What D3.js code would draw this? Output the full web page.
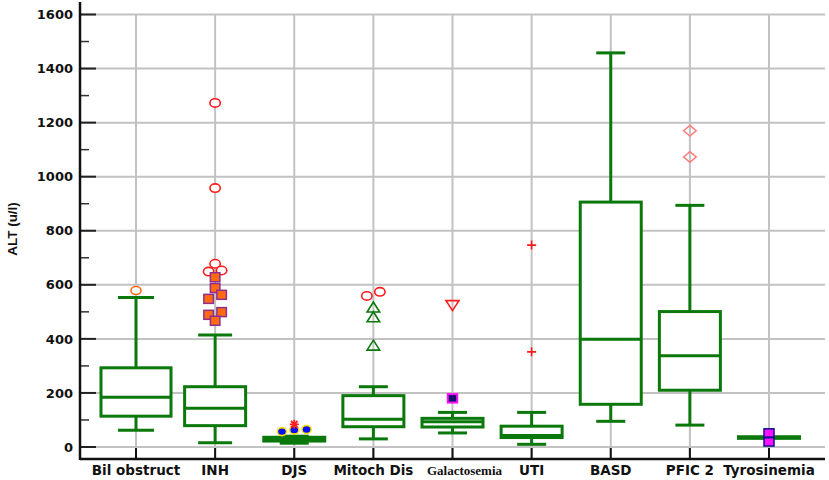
<!DOCTYPE html>
<html><head><meta charset="utf-8">
<script src="https://cdn.jsdelivr.net/npm/d3@7"></script>
<style>body{margin:0;background:#fff}svg{display:block}</style>
</head><body>
<svg id="c" width="829" height="480"></svg>
<script>
// ---- data ----
const categories = ["Bil obstruct","INH","DJS","Mitoch Dis","Galactosemia","UTI","BASD","PFIC 2","Tyrosinemia"];
const whiskerLow  = [62, 16, 14, 30, 52, 10, 95, 81, 35];
const q1          = [114, 79, 22, 75, 74, 35, 158, 210, 32];
const median      = [184, 143, 30, 103, 93, 43, 399, 338, 35];
const q3          = [293, 223, 36, 190, 106, 77, 906, 501, 38];
const whiskerHigh = [553, 414, 40, 223, 128, 128, 1458, 894, 35];
const yTicks = [0,200,400,600,800,1000,1200,1400,1600];
const yMinorTicks = [100,300,500,700,900,1100,1300,1500];

// outliers: [category, value, swarm column]
const redCircles    = [["INH",1273,0],["INH",958,0],["INH",678,0],["INH",653,1],["INH",649,-1],["Mitoch Dis",559,-1],["Mitoch Dis",574,1]];
const orangeCircles = [["Bil obstruct",579,0]];
const orangeSquares = [["INH",628,0],["INH",588,0],["INH",563,1],["INH",548,-1],["INH",499,1],["INH",489,-1],["INH",467,0]];
const blueDots      = [["DJS",57,-1],["DJS",63,0],["DJS",65,1]];
const redStars      = [["DJS",84,0]];
const greenTriangles= [["Mitoch Dis",516,0],["Mitoch Dis",480,0],["Mitoch Dis",375,0]];
const navySquares   = [["Galactosemia",180,0]];
const redDownTriangles = [["Galactosemia",523,0]];
const redPluses     = [["UTI",352,0],["UTI",747,0]];
const pinkDiamonds  = [["PFIC 2",1073,0],["PFIC 2",1170,0]];
const magentaSquares= [["Tyrosinemia",52,0],["Tyrosinemia",19,0]];

// ---- drawing ----
const svg = d3.select("#c");
const green = "#0b780b";
const x = d3.scalePoint().domain(categories).range([136, 769]);
const y = d3.scaleLinear().domain([0, 1600]).range([447, 14.5]);
const axisX = 80, axisY = 459, rightX = 825;

// grid
const grid = svg.append("g").attr("stroke", "#c2c2c2").attr("stroke-width", 2);
grid.selectAll("line.h").data(yTicks).join("line")
  .attr("x1", axisX).attr("x2", rightX).attr("y1", d => y(d)).attr("y2", d => y(d));
grid.selectAll("line.v").data(categories).join("line")
  .attr("x1", d => x(d)).attr("x2", d => x(d)).attr("y1", y(1600)).attr("y2", axisY);

// y axis
const yAxis = d3.axisLeft(y).tickValues(yTicks).tickFormat(d3.format("d")).tickSize(0).tickPadding(7);
const gy = svg.append("g").attr("transform", `translate(${axisX},0)`).call(yAxis);
gy.select(".domain").remove();
gy.selectAll("text").attr("font-family", "DejaVu Sans").attr("font-weight", "bold")
  .attr("font-size", 13).attr("fill", "#111");
svg.append("g").selectAll("line").data(yTicks).join("line")
  .attr("x1", axisX).attr("x2", axisX + 16).attr("y1", d => y(d)).attr("y2", d => y(d))
  .attr("stroke", "#222").attr("stroke-width", 2);
svg.append("g").selectAll("line").data(yMinorTicks).join("line")
  .attr("x1", axisX).attr("x2", axisX + 9).attr("y1", d => y(d)).attr("y2", d => y(d))
  .attr("stroke", "#333").attr("stroke-width", 1.5);
svg.append("line").attr("x1", axisX).attr("x2", axisX).attr("y1", 2).attr("y2", axisY + 1)
  .attr("stroke", "#111").attr("stroke-width", 2.5);

// x axis
svg.append("line").attr("x1", axisX).attr("x2", rightX).attr("y1", axisY).attr("y2", axisY)
  .attr("stroke", "#111").attr("stroke-width", 2.5);
svg.append("g").selectAll("line").data(categories).join("line")
  .attr("x1", d => x(d)).attr("x2", d => x(d)).attr("y1", axisY - 11).attr("y2", axisY)
  .attr("stroke", "#111").attr("stroke-width", 2);
svg.append("g").selectAll("text").data(categories).join("text")
  .attr("x", d => x(d) + (d === "Galactosemia" ? 12 : 0)).attr("y", 475).attr("text-anchor", "middle")
  .attr("font-family", d => d === "Galactosemia" ? "Liberation Serif" : "DejaVu Sans")
  .attr("font-weight", "bold").attr("font-size", d => d === "Galactosemia" ? 13 : 13.5)
  .attr("fill", "#111").text(d => d);

// y title
svg.append("text").attr("transform", "translate(16.5,229) rotate(-90)")
  .attr("text-anchor", "middle").attr("font-family", "Liberation Sans").attr("font-weight", "bold")
  .attr("font-size", 13.5).attr("fill", "#111").text("ALT (u/l)");

// boxes
const boxW = c => c === "Bil obstruct" ? 70 : 61;
const capW = c => c === "Bil obstruct" ? 36 : (c === "INH" ? 34 : 29);
const boxes = svg.append("g").attr("stroke", green).attr("stroke-width", 3).attr("fill", "none");
categories.forEach((c, i) => {
  const cx = x(c), g = boxes.append("g");
  g.append("line").attr("x1", cx).attr("x2", cx).attr("y1", y(q3[i])).attr("y2", y(whiskerHigh[i]));
  g.append("line").attr("x1", cx).attr("x2", cx).attr("y1", y(q1[i])).attr("y2", y(whiskerLow[i]));
  g.append("line").attr("x1", cx - capW(c)/2).attr("x2", cx + capW(c)/2).attr("y1", y(whiskerHigh[i])).attr("y2", y(whiskerHigh[i]));
  g.append("line").attr("x1", cx - capW(c)/2).attr("x2", cx + capW(c)/2).attr("y1", y(whiskerLow[i])).attr("y2", y(whiskerLow[i]));
  g.append("rect").attr("x", cx - boxW(c)/2).attr("width", boxW(c))
    .attr("y", y(q3[i])).attr("height", y(q1[i]) - y(q3[i]))
    .attr("fill", (c === "DJS" || c === "Tyrosinemia") ? green : "#fff");
  g.append("line").attr("x1", cx - boxW(c)/2).attr("x2", cx + boxW(c)/2).attr("y1", y(median[i])).attr("y2", y(median[i]));
});

// outliers
const out = svg.append("g");
function place(data, spacing, draw) {
  data.forEach(([c, v, col]) => draw(out, x(c) + col * spacing, y(v)));
}
const ellipse = (rx, ry, stroke, fill, sw) => (g, cx, cy) =>
  g.append("ellipse").attr("cx", cx).attr("cy", cy).attr("rx", rx).attr("ry", ry)
   .attr("fill", fill).attr("stroke", stroke).attr("stroke-width", sw);
const square = (w, h, stroke, fill, sw) => (g, cx, cy) =>
  g.append("rect").attr("x", cx - w/2).attr("y", cy - h/2).attr("width", w).attr("height", h)
   .attr("fill", fill).attr("stroke", stroke).attr("stroke-width", sw);
const pathMark = (fn, stroke, sw) => (g, cx, cy) =>
  g.append("path").attr("d", fn(cx, cy)).attr("fill", "none").attr("stroke", stroke).attr("stroke-width", sw);

place(redCircles, 6.5, ellipse(5.2, 4.2, "#ff1a1a", "#fff", 1.6));
place(orangeCircles, 6.5, ellipse(5, 4, "#ff6a1a", "#fff", 1.6));
place(orangeSquares, 6.5, square(9.5, 9, "#8e2f8e", "#ff6a10", 1.5));
place(blueDots, 12.3, ellipse(4.6, 4, "#ffe000", "#0010ff", 1.6));
place(redStars, 0, pathMark((cx, cy) =>
  `M${cx-4.5},${cy}H${cx+4.5}M${cx},${cy-4.5}V${cy+4.5}M${cx-3.3},${cy-3.3}L${cx+3.3},${cy+3.3}M${cx-3.3},${cy+3.3}L${cx+3.3},${cy-3.3}`, "#ff2020", 1.8));
place(greenTriangles, 0, pathMark((cx, cy) =>
  `M${cx},${cy-5.5}L${cx+6.3},${cy+4.5}L${cx-6.3},${cy+4.5}Z`, green, 1.6));
place(navySquares, 0, square(9.5, 8.5, "#ff10ff", "#10106a", 2));
place(redDownTriangles, 0, pathMark((cx, cy) =>
  `M${cx-6.5},${cy-5}L${cx+6.5},${cy-5}L${cx},${cy+5}Z`, "#ff1a1a", 1.6));
place(redPluses, 0, pathMark((cx, cy) =>
  `M${cx-4.5},${cy}H${cx+4.5}M${cx},${cy-4.5}V${cy+4.5}`, "#ff1a1a", 1.6));
place(pinkDiamonds, 0, pathMark((cx, cy) =>
  `M${cx},${cy-5.3}L${cx+6.3},${cy}L${cx},${cy+5.3}L${cx-6.3},${cy}Z`, "#ff7a7a", 1.5));
place(magentaSquares, 0, square(10, 8.3, "#101090", "#ff10ff", 1.5));
</script>
</body></html>
